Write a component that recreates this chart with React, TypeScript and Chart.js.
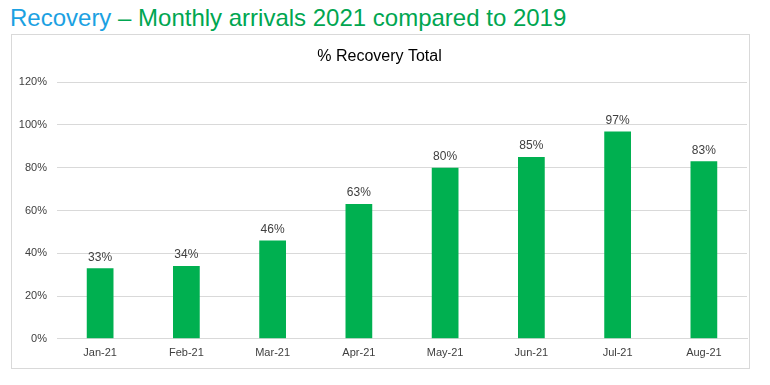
import React, { useEffect, useRef } from "react";
import { Chart, registerables } from "chart.js";

Chart.register(...registerables);

const categories = ["Jan-21", "Feb-21", "Mar-21", "Apr-21", "May-21", "Jun-21", "Jul-21", "Aug-21"];
const recoveryValues = [0.33, 0.34, 0.46, 0.63, 0.8, 0.85, 0.97, 0.83];
const yTickValues = [0, 0.2, 0.4, 0.6, 0.8, 1.0, 1.2];

const FONT = "'Liberation Sans', Arial, sans-serif";

const valueLabels = {
  id: "valueLabels",
  afterDatasetsDraw(chart: any) {
    const ctx = chart.ctx;
    const meta = chart.getDatasetMeta(0);
    ctx.save();
    ctx.font = `12px ${FONT}`;
    ctx.fillStyle = "#404040";
    ctx.textAlign = "center";
    ctx.textBaseline = "bottom";
    meta.data.forEach((bar: any, i: number) => {
      const v = chart.data.datasets[0].data[i] as number;
      ctx.fillText(Math.round(v * 100) + "%", bar.x, bar.y - 5);
    });
    ctx.restore();
  },
};

export default function App() {
  const ref = useRef<HTMLCanvasElement>(null);
  useEffect(() => {
    if (!ref.current) return;
    const chart = new Chart(ref.current, {
      type: "bar",
      data: {
        labels: categories,
        datasets: [
          {
            label: "% Recovery Total",
            data: recoveryValues,
            backgroundColor: "#00B050",
            barPercentage: 0.62,
            categoryPercentage: 0.5,
          },
        ],
      },
      options: {
        animation: false,
        responsive: false,
        maintainAspectRatio: false,
        layout: { padding: { left: 0, right: 2, top: 0, bottom: 0 } },
        plugins: {
          legend: { display: false },
          tooltip: { enabled: false },
          title: {
            display: true,
            text: "% Recovery Total",
            color: "#000000",
            font: { family: FONT, size: 16, weight: "normal" },
            padding: { top: 12, bottom: 16 },
          },
        },
        scales: {
          x: {
            grid: { display: false, drawTicks: false },
            border: { display: true, color: "#D9D9D9" },
            ticks: {
              color: "#404040",
              font: { family: FONT, size: 11 },
              padding: 8,
            },
          },
          y: {
            min: 0,
            max: 1.2,
            afterBuildTicks(scale: any) {
              scale.ticks = yTickValues.map((v) => ({ value: v }));
            },
            afterFit(scale: any) {
              scale.width = 45;
            },
            grid: { color: "#D9D9D9", drawTicks: false },
            border: { display: false },
            ticks: {
              color: "#404040",
              font: { family: FONT, size: 11 },
              padding: 10,
              callback: (v: any) => Math.round(Number(v) * 100) + "%",
            },
          },
        },
      },
      plugins: [valueLabels],
    });
    return () => chart.destroy();
  }, []);

  return (
    <div
      style={{
        position: "fixed",
        left: 0,
        top: 0,
        width: 770,
        height: 385,
        background: "#FFFFFF",
        fontFamily: FONT,
      }}
    >
      <div
        style={{
          position: "absolute",
          left: 10,
          top: 4,
          fontSize: 24,
          lineHeight: "28px",
          whiteSpace: "nowrap",
        }}
      >
        <span style={{ color: "#1BA1E2" }}>Recovery</span>
        <span style={{ color: "#00A651" }}> – Monthly arrivals 2021 compared to 2019</span>
      </div>
      <div
        style={{
          position: "absolute",
          left: 11,
          top: 34,
          width: 737,
          height: 333,
          border: "1px solid #D9D9D9",
        }}
      >
        <canvas ref={ref} width={737} height={333} style={{ display: "block" }} />
      </div>
    </div>
  );
}
